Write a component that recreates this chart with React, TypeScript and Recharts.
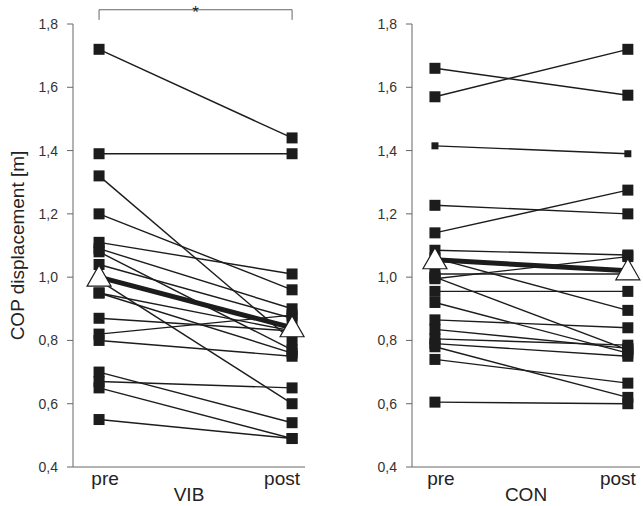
import { LineChart, Line, XAxis, YAxis, ReferenceLine } from 'recharts';

const categories = ['pre', 'post'];
const yTicks = [0.4, 0.6, 0.8, 1.0, 1.2, 1.4, 1.6, 1.8];

// VIB group, one entry per subject
const vibPre = [1.72, 1.39, 1.32, 1.2, 1.11, 1.09, 1.08, 1.04, 0.99, 0.95, 0.95, 0.87, 0.82, 0.8, 0.7, 0.67, 0.65, 0.55];
const vibPost = [1.44, 1.39, 0.8, 0.96, 1.01, 0.9, 0.77, 0.87, 0.6, 0.83, 0.76, 0.83, 0.88, 0.75, 0.54, 0.65, 0.49, 0.49];
const vibMean = [1.0, 0.84];

// CON group
const conPre = [1.66, 1.57, 1.415, 1.227, 1.14, 1.085, 1.06, 0.995, 1.01, 1.0, 0.955, 0.92, 0.865, 0.835, 0.805, 0.79, 0.78, 0.74, 0.605];
const conPost = [1.575, 1.72, 1.39, 1.2, 1.275, 1.07, 0.895, 1.065, 1.01, 0.77, 0.955, 0.76, 0.84, 0.775, 0.785, 0.75, 0.62, 0.665, 0.6];
const conMean = [1.055, 1.02];
const conSmall = [2];

const FONT = '"Liberation Sans", Arial, sans-serif';
const INK = '#1c1c1c';
const AXIS = '#666';

function buildRows(pre: number[], post: number[], mean: number[]) {
  return categories.map((_c, i) => {
    const row: Record<string, number> = { pos: i, mean: mean[i] };
    pre.forEach((v, k) => {
      row[`s${k}`] = i === 0 ? v : post[k];
    });
    return row;
  });
}

const squareDot = (size: number) => (p: any) => {
  if (p.cx == null || p.cy == null) return <g key={`n-${p.index}`} />;
  return (
    <rect
      key={`${p.dataKey}-${p.index}`}
      x={p.cx - size / 2}
      y={p.cy - size / 2}
      width={size}
      height={size}
      fill={INK}
    />
  );
};

const triangleDot = (p: any) => {
  if (p.cx == null || p.cy == null) return <g key={`t-${p.index}`} />;
  const { cx, cy } = p;
  return (
    <polygon
      key={`tri-${p.index}`}
      points={`${cx},${cy - 12} ${cx - 12},${cy + 9} ${cx + 12},${cy + 9}`}
      fill="#fff"
      stroke={INK}
      strokeWidth={1.2}
    />
  );
};

const PrePostTick = (p: any) => {
  const v = p.payload.value;
  return (
    <text x={p.x + (v === 0 ? 6 : -10)} y={p.y + 18} textAnchor="middle" fontSize={19} fill="#222" fontFamily={FONT}>
      {categories[v]}
    </text>
  );
};

interface PanelProps {
  pre: number[];
  post: number[];
  mean: number[];
  name: string;
  small?: number[];
  width: number;
  axisWidth: number;
  domain: [number, number];
  showTitle?: boolean;
  bracket?: boolean;
}

function Panel({ pre, post, mean, name, small = [], width, axisWidth, domain, showTitle, bracket }: PanelProps) {
  const rows = buildRows(pre, post, mean);
  return (
    <LineChart width={width} height={506} data={rows} margin={{ top: 24, right: showTitle ? 7 : 3, bottom: 3, left: 0 }}>
      <XAxis
        dataKey="pos"
        type="number"
        domain={domain}
        ticks={[0, 1]}
        allowDecimals
        tickLine={false}
        tickSize={0}
        tickMargin={0}
        height={36}
        stroke={AXIS}
        tick={<PrePostTick />}
        label={{ value: name, position: 'insideBottom', offset: 2, fontSize: 19, fill: '#222', fontFamily: FONT }}
      />
      <YAxis
        type="number"
        domain={[0.4, 1.8]}
        ticks={yTicks}
        width={axisWidth}
        stroke={AXIS}
        tickSize={6}
        tickMargin={9}
        tick={{ fontSize: 14, fill: '#333', fontFamily: FONT }}
        tickFormatter={(v: number) => v.toFixed(1).replace('.', ',')}
        label={
          showTitle
            ? { value: 'COP displacement [m]', angle: -90, position: 'insideLeft', offset: 17, fontSize: 19, fill: '#222', fontFamily: FONT, style: { textAnchor: 'middle' } }
            : undefined
        }
      />
      {pre.map((_v, k) => (
        <Line
          key={k}
          dataKey={`s${k}`}
          stroke={INK}
          strokeWidth={1.4}
          dot={squareDot(small.includes(k) ? 7 : 11)}
          isAnimationActive={false}
        />
      ))}
      <Line dataKey="mean" stroke={INK} strokeWidth={5} dot={triangleDot} isAnimationActive={false} />
      {bracket && (
        <ReferenceLine segment={[{ x: 0, y: 1.813 }, { x: 0, y: 1.845 }]} stroke={AXIS} ifOverflow="visible" />
      )}
      {bracket && (
        <ReferenceLine
          segment={[{ x: 0, y: 1.845 }, { x: 1, y: 1.845 }]}
          stroke={AXIS}
          ifOverflow="visible"
          label={{ value: '*', position: 'top', offset: -8, fontSize: 17, fill: '#222', fontFamily: FONT }}
        />
      )}
      {bracket && (
        <ReferenceLine segment={[{ x: 1, y: 1.813 }, { x: 1, y: 1.845 }]} stroke={AXIS} ifOverflow="visible" />
      )}
    </LineChart>
  );
}

export default function App() {
  return (
    <div style={{ position: 'absolute', left: 0, top: 0, width: 643, height: 506, background: '#fff', fontFamily: FONT }}>
      <div style={{ position: 'absolute', left: 0, top: 0 }}>
        <Panel pre={vibPre} post={vibPost} mean={vibMean} name="VIB" width={312} axisWidth={73} domain={[-0.135, 1.067]} showTitle bracket />
      </div>
      <div style={{ position: 'absolute', left: 330, top: 0 }}>
        <Panel pre={conPre} post={conPost} mean={conMean} name="CON" small={conSmall} width={313} axisWidth={82} domain={[-0.119, 1.063]} />
      </div>
    </div>
  );
}
